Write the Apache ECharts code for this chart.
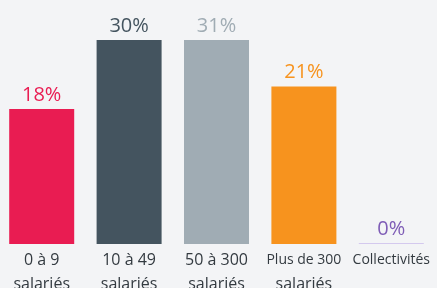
<!DOCTYPE html>
<html>
<head>
<meta charset="utf-8">
<script src="https://cdn.jsdelivr.net/npm/echarts@6/dist/echarts.min.js"></script>
<style>
  html, body { margin: 0; padding: 0; background: #f3f4f6; }
  #main { width: 437px; height: 288px; }
</style>
</head>
<body>
<div id="main"></div>
<script>
const categories = ["0 à 9\nsalariés", "10 à 49\nsalariés", "50 à 300\nsalariés", "Plus de 300\nsalariés", "Collectivités"];
const values = [18, 30, 31, 21, 0];
const barColors = ["#e91c52", "#44545f", "#a0acb4", "#f7931e", "#d4c9ee"];
const labelColors = ["#e91c52", "#44545f", "#a0acb4", "#f7931e", "#7e5cb6"];

const chart = echarts.init(document.getElementById("main"));

const option = {
  backgroundColor: "#f3f4f6",
  animation: false,
  grid: {
    left: -2,
    right: 2,
    top: 40,
    bottom: 44,
    containLabel: false,
    outerBoundsMode: "none" // the labels run off the bottom edge in the original
  },
  xAxis: {
    type: "category",
    data: categories,
    axisLine: { show: false },
    axisTick: { show: false },
    axisLabel: {
      margin: 4,
      interval: 0,
      // long first lines are squeezed like in the original
      formatter: value =>
        value
          .split("\n")
          .map(line => (line.length > 9 ? `{n|${line}}` : `{w|${line}}`))
          .join("\n"),
      rich: {
        w: { fontFamily: "Open Sans", fontSize: 16, lineHeight: 24, color: "#333a40" },
        n: { fontFamily: "Open Sans", fontSize: 14, lineHeight: 24, color: "#333a40" }
      }
    }
  },
  yAxis: {
    type: "value",
    min: 0,
    max: 27.2, // tall bars are cut at the top of the plot, as in the picture
    show: false,
    splitLine: { show: false }
  },
  series: [
    {
      type: "bar",
      barWidth: 65,
      barMinHeight: 1,
      clip: true,
      data: values.map((v, i) => ({
        value: v,
        itemStyle: { color: barColors[i] },
        label: { color: labelColors[i] }
      })),
      label: {
        show: true,
        position: "top",
        distance: 4,
        formatter: "{c}%",
        fontFamily: "Open Sans",
        fontSize: 20
      }
    }
  ]
};

chart.setOption(option);
</script>
</body>
</html>
